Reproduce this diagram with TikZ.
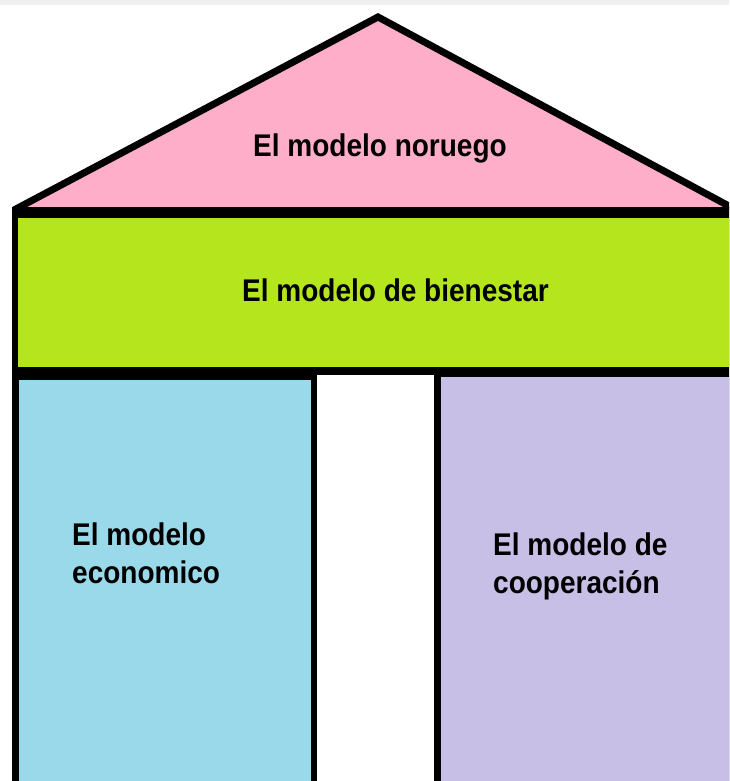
\documentclass[tikz,border=0pt]{standalone}
\usepackage{fontspec}
\setmainfont{Liberation Sans}
\definecolor{roofpink}{RGB}{255,174,201}
\definecolor{limegreen}{RGB}{181,230,29}
\definecolor{pillarblue}{RGB}{153,217,234}
\definecolor{pillarpurple}{RGB}{200,191,231}
\definecolor{topgray}{RGB}{239,239,239}
\tikzset{
  lbl/.style={font=\bfseries\fontsize{28}{34.8}\selectfont, inner sep=0pt, anchor=base west},
  roofline/.style={draw=black, line width=7pt, line join=miter}
}
\newcommand{\tallt}[1]{\scalebox{1}[1.12]{#1}}
\begin{document}
\begin{tikzpicture}[x=1pt,y=-1pt]
\useasboundingbox (0,0) rectangle (729,781);
\clip (0,0) rectangle (729,781);
\fill[white] (0,0) rectangle (729,781);
\fill[topgray] (0,0) rectangle (729,5);
% roof
\fill[roofpink] (14,210) -- (378,17) -- (740,212) -- cycle;
\draw[roofline] (14,210) -- (378,17) -- (740,212);
% black frame
\fill[black] (12,207) rectangle (740,781);
% beam
\fill[limegreen] (18,218) rectangle (740,367);
% pillars
\fill[pillarblue] (19,380) rectangle (311,781);
\fill[white] (317,375) rectangle (434,781);
\fill[pillarpurple] (441,377) rectangle (740,781);
% labels
\node[lbl] (roof) at (253,156) {\tallt{El modelo noruego}};
\node[lbl] (beam) at (242,301) {\tallt{El modelo de bienestar}};
\node[lbl] (left) at (72,545) {\tallt{\begin{tabular}[t]{@{}l@{}}El modelo\\economico\end{tabular}}};
\node[lbl] (right) at (493,555) {\tallt{\begin{tabular}[t]{@{}l@{}}El modelo de\\cooperación\end{tabular}}};
\end{tikzpicture}
\end{document}
